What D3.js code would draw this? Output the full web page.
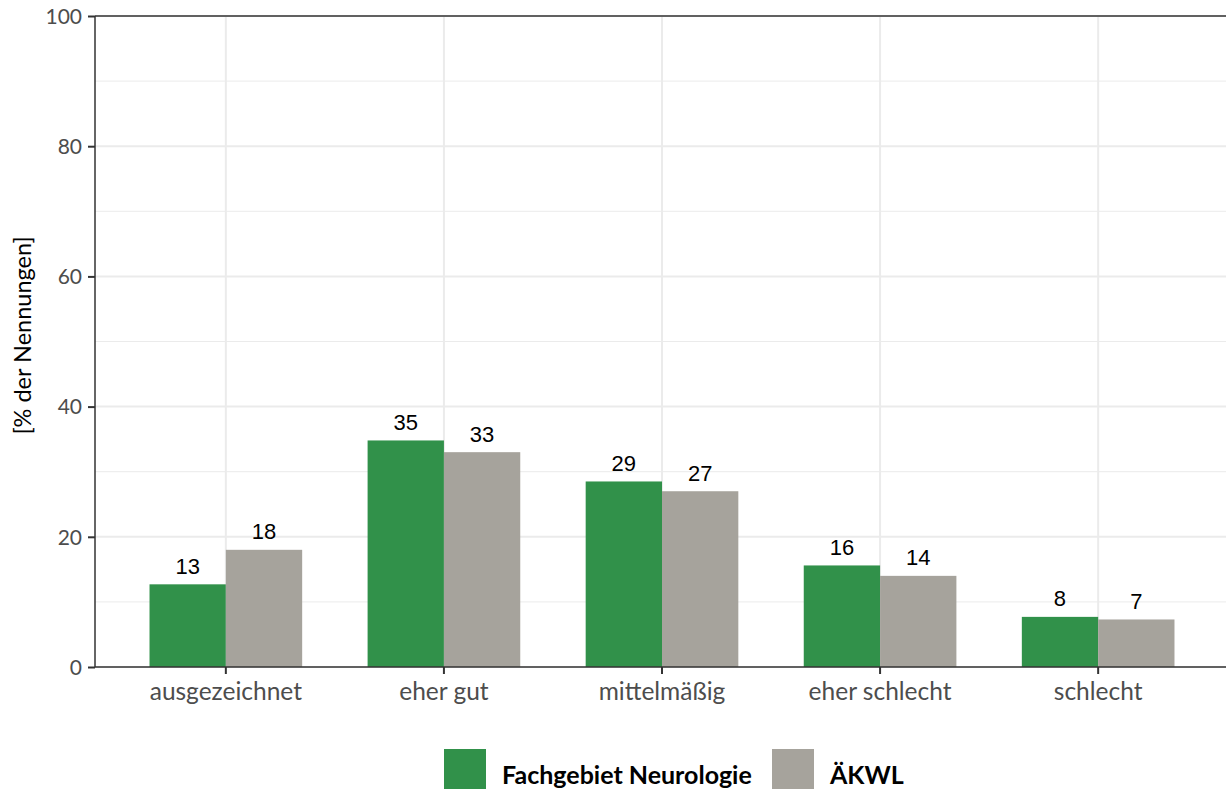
<!DOCTYPE html>
<html><head><meta charset="utf-8">
<script src="https://cdn.jsdelivr.net/npm/d3@7/dist/d3.min.js"></script>
<style>body{margin:0;background:#fff;} svg{display:block;}</style>
</head><body>
<svg id="chart" width="1226" height="789"></svg>
<script>
const categories = ["ausgezeichnet", "eher gut", "mittelmäßig", "eher schlecht", "schlecht"];
const seriesNames = ["Fachgebiet Neurologie", "ÄKWL"];
const neurologie = [12.7, 34.8, 28.5, 15.6, 7.7];
const aekwl = [18.0, 33.0, 27.0, 14.0, 7.3];
const yTicks = [0, 20, 40, 60, 80, 100];
const yMinor = [10, 30, 50, 70, 90];
const colors = ["#31914A", "#A6A39C"];

const svg = d3.select("#chart");
const pL = 95, pR = 1229, pT = 16, pB = 667;

const x = d3.scaleBand().domain(categories).range([pL, pR]).paddingInner(0.3).paddingOuter(0.25);
const xs = d3.scaleBand().domain(seriesNames).range([0, x.bandwidth()]).padding(0);
const y = d3.scaleLinear().domain([0, 100]).range([pB, pT]);

const data = categories.map((c, i) => ({cat: c, vals: [
  {s: seriesNames[0], v: neurologie[i]}, {s: seriesNames[1], v: aekwl[i]}]}));

// grid
const g = svg.append("g");
g.selectAll(".minor").data(yMinor).join("line")
  .attr("x1", pL).attr("x2", pR).attr("y1", d => y(d)).attr("y2", d => y(d))
  .attr("stroke", "#EBEBEB").attr("stroke-width", 1);
g.selectAll(".major").data(yTicks).join("line")
  .attr("x1", pL).attr("x2", pR).attr("y1", d => y(d)).attr("y2", d => y(d))
  .attr("stroke", "#EBEBEB").attr("stroke-width", 2);
g.selectAll(".vgrid").data(categories).join("line")
  .attr("x1", d => x(d) + x.bandwidth()/2).attr("x2", d => x(d) + x.bandwidth()/2)
  .attr("y1", pT).attr("y2", pB)
  .attr("stroke", "#EBEBEB").attr("stroke-width", 2);

// bars
const cg = svg.append("g").selectAll("g").data(data).join("g")
  .attr("transform", d => `translate(${x(d.cat)},0)`);
cg.selectAll("rect").data(d => d.vals).join("rect")
  .attr("x", d => xs(d.s)).attr("width", xs.bandwidth())
  .attr("y", d => y(d.v)).attr("height", d => y(0) - y(d.v))
  .attr("fill", (d, i) => colors[i]);
cg.selectAll("text").data(d => d.vals).join("text")
  .attr("x", d => xs(d.s) + xs.bandwidth()/2).attr("y", d => y(d.v) - 10.5)
  .attr("text-anchor", "middle")
  .style("font-family", "Liberation Sans, Arial, sans-serif").style("font-size", "22px").attr("fill", "#000")
  .text(d => Math.round(d.v));

// axes / border
const yAxis = svg.append("g").attr("transform", `translate(${pL},0)`)
  .call(d3.axisLeft(y).tickValues(yTicks).tickSize(7).tickPadding(6));
const xAxis = svg.append("g").attr("transform", `translate(0,${pB})`)
  .call(d3.axisBottom(x).tickSize(7).tickPadding(9));
[yAxis, xAxis].forEach(a => {
  a.select(".domain").remove();
  a.selectAll(".tick line").attr("stroke", "#333").attr("stroke-width", 2);
  a.selectAll(".tick text").attr("fill", "#4D4D4D").style("font-family", "Lato, sans-serif");
});
yAxis.selectAll(".tick text").style("font-size", "21px").attr("dy", "0.35em");
xAxis.selectAll(".tick text").style("font-size", "24.5px");

svg.append("line").attr("x1", pL).attr("x2", pR).attr("y1", pT).attr("y2", pT).attr("stroke", "#333").attr("stroke-width", 1.5);
svg.append("line").attr("x1", pL).attr("x2", pR).attr("y1", pB).attr("y2", pB).attr("stroke", "#333").attr("stroke-width", 1.5);
svg.append("line").attr("x1", pL).attr("x2", pL).attr("y1", pT).attr("y2", pB).attr("stroke", "#333").attr("stroke-width", 1.5);

// y title
svg.append("text").attr("transform", `translate(31,${(pT+pB)/2 - 6}) rotate(-90)`)
  .attr("text-anchor", "middle").style("font-family", "Lato, sans-serif").style("font-size", "23.5px")
  .attr("fill", "#000").text("[% der Nennungen]");

// legend
const legX = [444, 772];
const lg = svg.append("g").selectAll("g").data(seriesNames).join("g")
  .attr("transform", (d, i) => `translate(${legX[i]},749)`);
lg.append("rect").attr("width", 42).attr("height", 42).attr("fill", (d, i) => colors[i]);
lg.append("text").attr("x", 58).attr("y", 35)
  .style("font-family", "Lato, sans-serif").style("font-weight", "bold").style("font-size", "25px")
  .attr("fill", "#000").text(d => d);
</script>
</body></html>
